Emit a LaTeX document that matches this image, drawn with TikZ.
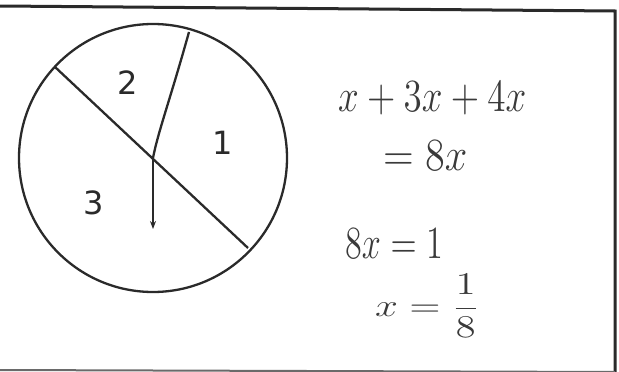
\documentclass[tikz,border=0pt]{standalone}
\usepackage{fontspec}
\newfontfamily\digitfont{DejaVu Sans}
\usetikzlibrary{arrows.meta}
\definecolor{ink}{HTML}{2A2A2A}
\definecolor{pencil}{HTML}{3A3A3A}
\tikzset{
  frameline/.style={draw=ink, line width=3pt},
  penline/.style={draw=ink, line width=2.3pt},
  sectorlabel/.style={font=\digitfont\fontsize{32}{32}\selectfont, text=ink},
  handwork/.style={text=pencil, inner sep=0pt, anchor=base west}
}
\newcommand{\hw}[3]{\scalebox{#1}[#2]{\fontsize{14}{14}\selectfont$#3$}}
\begin{document}
\begin{tikzpicture}[x=1pt,y=-1pt]
\useasboundingbox (0,0) rectangle (619,372);
% frame
\coordinate (tl) at (0,6);
\coordinate (tr) at (615,11);
\coordinate (br) at (615,372);
\coordinate (bl) at (0,370);
\draw[frameline] (tl) -- (tr) -- (br);
\draw[draw=ink!70, line width=2pt] (bl) -- (br);
% circle
\coordinate (c) at (153,158);
\draw[penline] (c) circle (134);
\coordinate (ul) at (55,67);
\coordinate (lr) at (248,248);
\draw[penline] (ul) -- (lr);
\coordinate (top) at (189,32);
\draw[penline] (c) .. controls (158,132) and (170,100) .. (top);
\coordinate (tip) at (153,229);
\draw[line width=1.8pt, draw=ink, -{Stealth[length=8pt,width=6pt]}] (c) -- (tip);
% labels
\node[sectorlabel] (two) at (128,83) {2};
\node[sectorlabel] (one) at (223,143) {1};
\node[sectorlabel] (three) at (94,203) {3};
% handwritten work
\node[handwork] (l1) at (338,111) {\hw{2.58}{3.2}{x+3x+4x}};
\node[handwork] (l2) at (383,170) {\hw{2.8}{3.2}{=8x}};
\node[handwork] (l3) at (345,258) {\hw{2.38}{3.2}{8x=1}};
\node[handwork] (l4) at (375,316) {\hw{2.85}{2.2}{x=\displaystyle\frac{1}{8}}};
\end{tikzpicture}
\end{document}
